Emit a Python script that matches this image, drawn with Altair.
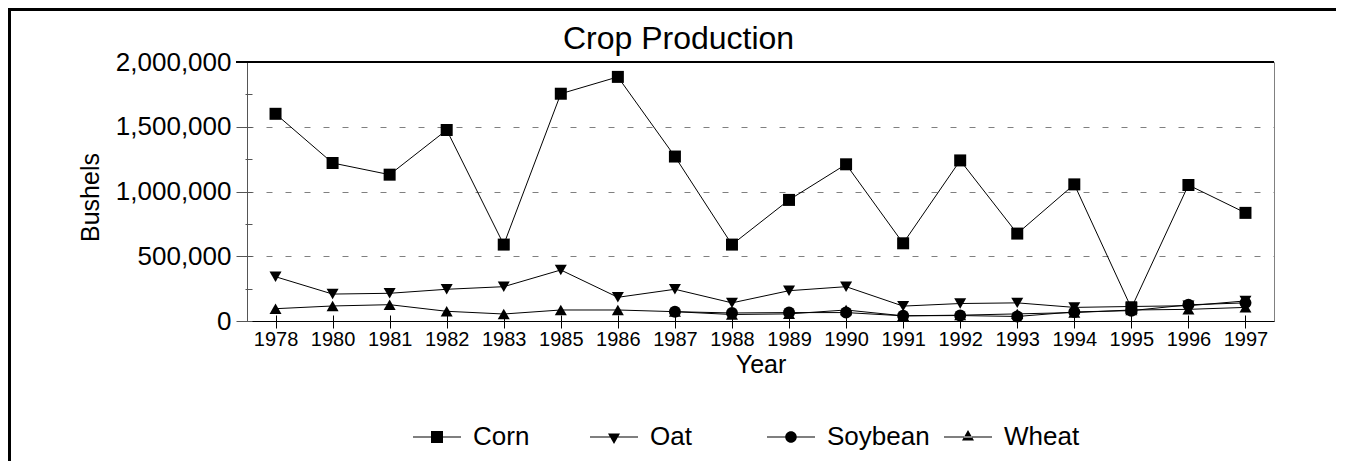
import altair as alt
import pandas as pd

years = ["1978", "1980", "1981", "1982", "1983", "1985", "1986", "1987", "1988",
         "1989", "1990", "1991", "1992", "1993", "1994", "1995", "1996", "1997"]
corn = [1600000, 1220000, 1130000, 1475000, 590000, 1755000, 1885000, 1270000, 590000,
        935000, 1210000, 600000, 1240000, 675000, 1055000, 100000, 1050000, 835000]
oat = [342000, 208000, 214000, 245000, 265000, 394000, 183000, 245000, 140000,
       234000, 265000, 115000, 135000, 140000, 105000, 112000, 118000, 155000]
soybean = [None, None, None, None, None, None, None, 72000, 62000,
           65000, 65000, 40000, 42000, 35000, 70000, 80000, 125000, 140000]
wheat = [95000, 116000, 126000, 75000, 54000, 85000, 85000, 72000, 50000,
         55000, 85000, 40000, 45000, 55000, 65000, 85000, 90000, 105000]

crops = ["Corn", "Oat", "Soybean", "Wheat"]
point_shapes = ["square", "triangle-down", "circle", "triangle-up"]
# legend glyphs: a short line with the marker in its middle (filled paths only)
LINE = "M-1,-0.021H1V0.021H-1Z"
legend_shapes = [
    LINE + "M-0.25,-0.25H0.25V0.25H-0.25Z",
    LINE + "M-0.25,-0.144L0.25,-0.144L0,0.289Z",
    LINE + "M0.24,0A0.24,0.24 0 1,1 -0.24,0A0.24,0.24 0 1,1 0.24,0Z",
    LINE + "M-0.25,0.144L0.25,0.144L0,-0.289Z",
]
y_major = [0, 500000, 1000000, 1500000, 2000000]
y_all = [0, 250000, 500000, 750000, 1000000, 1250000, 1500000, 1750000, 2000000]
y_grid = [500000, 1000000, 1500000]

rows = []
for name, series in zip(crops, [corn, oat, soybean, wheat]):
    for yr, v in zip(years, series):
        if v is not None:
            rows.append({"Year": yr, "Bushels": v, "Crop": name})
df = pd.DataFrame(rows)

FONT = "Liberation Sans"
W, H = 1027, 259
PAD_L, PAD_T, PAD_R, PAD_B = 239, 54, 63, 140

x_main = alt.X("Year:O", sort=years,
               axis=alt.Axis(title="Year", labelAngle=0, labelFontSize=20, titleFontSize=25,
                             titleFontWeight="normal", tickSize=7, tickColor="black",
                             domainColor="black", labelPadding=1, titlePadding=3,
                             labelColor="black", titleColor="black", orient="bottom"))
x_inner = alt.X("Year:O", sort=years,
                axis=alt.Axis(title=None, labels=False, domain=False, grid=False, tickSize=6,
                              offset=-6, tickColor="black", orient="bottom"))
yscale = alt.Scale(domain=[0, 2000000], nice=False)

base = alt.Chart(df)

lines = base.mark_line(color="black", strokeWidth=1).encode(
    x=x_main,
    y=alt.Y("Bushels:Q", scale=yscale,
            axis=alt.Axis(title="Bushels", values=y_major, format=",d", labelFontSize=26,
                          titleFontSize=25, titleFontWeight="normal", tickSize=11,
                          tickColor="#555555", domainColor="#555555", grid=False,
                          labelPadding=5, titlePadding=12, titleY=135, labelColor="black",
                          titleColor="black", orient="left")),
    detail="Crop:N",
)

points = base.mark_point(filled=True, color="black", opacity=1, size=144).encode(
    x=x_inner,
    y=alt.Y("Bushels:Q", scale=yscale,
            axis=alt.Axis(title=None, values=y_all, labels=False, domain=False, grid=False,
                          tickSize=7, offset=-5, tickColor="#555555", orient="left")),
    shape=alt.Shape("Crop:N", scale=alt.Scale(domain=crops, range=point_shapes), legend=None),
)

legend_layer = base.mark_point(filled=True, color="black", opacity=0, size=144).encode(
    x=alt.X("Year:O", sort=years, axis=None),
    y=alt.Y("Bushels:Q", scale=yscale,
            axis=alt.Axis(title=None, values=y_grid, labels=False, domain=False, ticks=False,
                          grid=True, gridDash=[6, 13], gridColor="#808080", orient="left")),
    shape=alt.Shape("Crop:N", scale=alt.Scale(domain=crops, range=legend_shapes),
                    legend=alt.Legend(title=None, orient="none", legendX=166, legendY=351,
                                      direction="horizontal", columns=4, gridAlign="all",
                                      symbolSize=2304, symbolOpacity=1,
                                      symbolFillColor="black", symbolStrokeWidth=0,
                                      labelFontSize=26, labelOffset=12,
                                      columnPadding=14, padding=0, labelColor="black")),
)

top_rule = alt.Chart(df).mark_rule(color="black", strokeWidth=1).encode(
    x=alt.value(-11), x2=alt.value(W), y=alt.value(0)
)

frame_top = alt.Chart(df).mark_rule(color="black", strokeWidth=3, clip=False).encode(
    x=alt.value(-PAD_L), x2=alt.value(W + PAD_R - 1), y=alt.value(-PAD_T + 1.5)
)
frame_left = alt.Chart(df).mark_rule(color="black", strokeWidth=3, clip=False).encode(
    x=alt.value(-PAD_L + 1.5), y=alt.value(-PAD_T), y2=alt.value(H + PAD_B)
)

chart = alt.layer(frame_top, frame_left, legend_layer, lines, points, top_rule).resolve_scale(
    shape="independent"
).resolve_axis(x="independent", y="independent").properties(
    width=W, height=H,
    title=alt.TitleParams("Crop Production", fontSize=32, fontWeight="normal", font=FONT,
                          color="black", anchor="middle", dx=-82, dy=57, offset=8),
    autosize=alt.AutoSizeParams(type="none"),
    padding={"left": PAD_L, "top": PAD_T, "right": PAD_R, "bottom": PAD_B},
).configure(font=FONT).configure_view(stroke="#808080", strokeWidth=1).configure_axis(
    labelFont=FONT, titleFont=FONT
).configure_legend(labelFont=FONT)

chart.save("out.html", embed_options={"renderer": "svg", "actions": False})
